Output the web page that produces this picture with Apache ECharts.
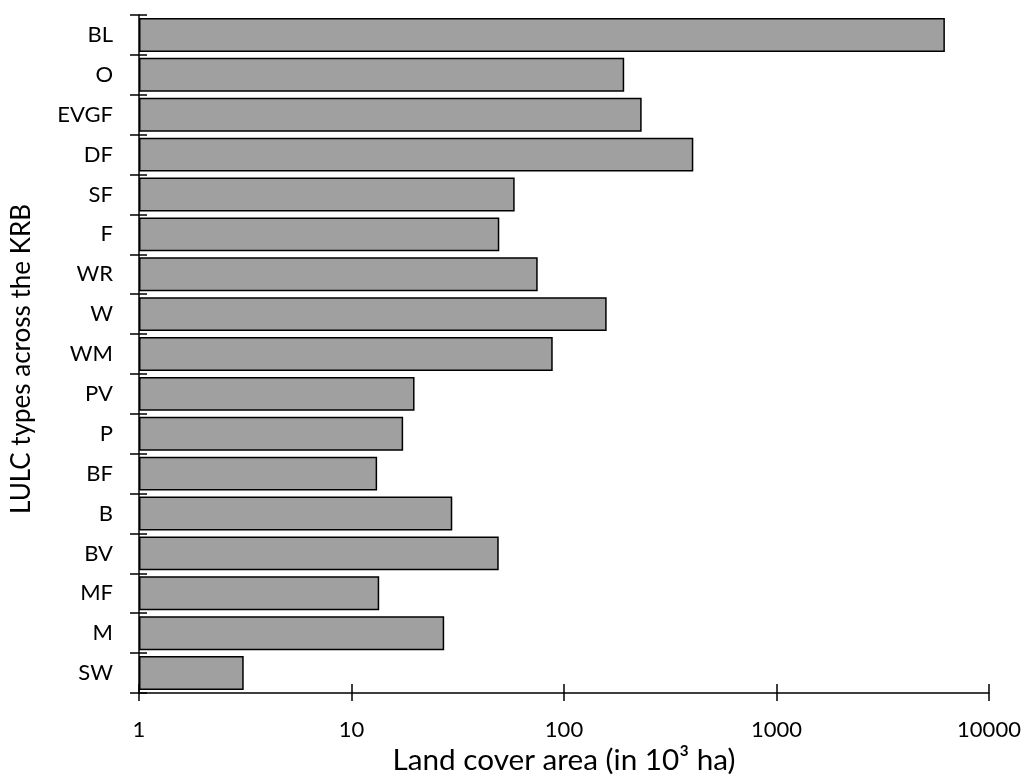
<!DOCTYPE html>
<html>
<head>
<meta charset="utf-8">
<script src="https://cdn.jsdelivr.net/npm/echarts@6/dist/echarts.min.js"></script>
<style>
  html, body { margin: 0; padding: 0; background: #fff; }
  #chart { width: 1027px; height: 776px; }
</style>
</head>
<body>
<div id="chart"></div>
<script>
// Land use / land cover classes, listed top to bottom
const categories = ['BL', 'O', 'EVGF', 'DF', 'SF', 'F', 'WR', 'W', 'WM', 'PV', 'P', 'BF', 'B', 'BV', 'MF', 'M', 'SW'];
// Area of each class, in 10^3 ha
const areaValues = [6200, 192, 232, 406, 58.6, 49.6, 75.2, 158.8, 88.5, 19.8, 17.5, 13.2, 29.8, 49.3, 13.5, 27.3, 3.11];
// Log-scale axis extent
const xMin = 1;
const xMax = 10000;

const FONT = 'Lato, "Open Sans", sans-serif';
const chart = echarts.init(document.getElementById('chart'), null, { renderer: 'canvas' });

const tickStyle = { color: '#000', width: 1.5 };

chart.setOption({
  animation: false,
  backgroundColor: '#fff',
  textStyle: { fontFamily: FONT, color: '#000' },
  grid: {
    left: 139, right: 38, top: 15, bottom: 83,
    containLabel: false,
    outerBoundsMode: 'none'
  },
  xAxis: [
    {
      type: 'log',
      logBase: 10,
      min: xMin,
      max: xMax,
      position: 'bottom',
      name: 'Land cover area (in 10³ ha)',
      nameLocation: 'middle',
      nameGap: 52,
      nameTextStyle: { fontFamily: FONT, fontSize: 29.7, color: '#000' },
      axisLine: { show: true, lineStyle: { color: '#000', width: 1.5 } },
      axisTick: { show: true, inside: false, length: 8, lineStyle: tickStyle },
      axisLabel: {
        show: true, fontFamily: FONT, fontSize: 22, color: '#000', margin: 26,
        formatter: (v) => String(v)
      },
      splitLine: { show: false },
      minorTick: { show: false }
    },
    {
      // inner half of the crossing ticks
      type: 'log',
      logBase: 10,
      min: xMin,
      max: xMax,
      position: 'bottom',
      gridIndex: 0,
      axisLine: { show: false },
      axisTick: { show: true, inside: true, length: 9, lineStyle: tickStyle },
      axisLabel: { show: false },
      splitLine: { show: false }
    }
  ],
  yAxis: [
    {
      type: 'category',
      data: categories,
      inverse: true,
      position: 'left',
      name: 'LULC types across the KRB',
      nameLocation: 'middle',
      nameGap: 104,
      nameRotate: 90,
      nameTextStyle: { fontFamily: FONT, fontSize: 26, color: '#000', padding: [0, 10, 0, 0] },
      axisLine: { show: true, lineStyle: { color: '#000', width: 1.5 } },
      axisTick: { show: true, inside: false, length: 9, alignWithLabel: false, lineStyle: tickStyle },
      axisLabel: { show: true, fontFamily: FONT, fontSize: 22, color: '#000', margin: 26 },
      splitLine: { show: false }
    },
    {
      // inner half of the crossing ticks
      type: 'category',
      data: categories,
      inverse: true,
      position: 'left',
      offset: 0,
      axisLine: { show: false },
      axisTick: { show: true, inside: true, length: 8, alignWithLabel: false, lineStyle: tickStyle },
      axisLabel: { show: false },
      splitLine: { show: false }
    }
  ],
  series: [
    {
      type: 'bar',
      xAxisIndex: 0,
      yAxisIndex: 0,
      data: areaValues,
      barCategoryGap: '15%',
      itemStyle: { color: '#a0a0a0', borderColor: '#000', borderWidth: 1.5 },
      silent: true
    }
  ]
});
</script>
</body>
</html>
